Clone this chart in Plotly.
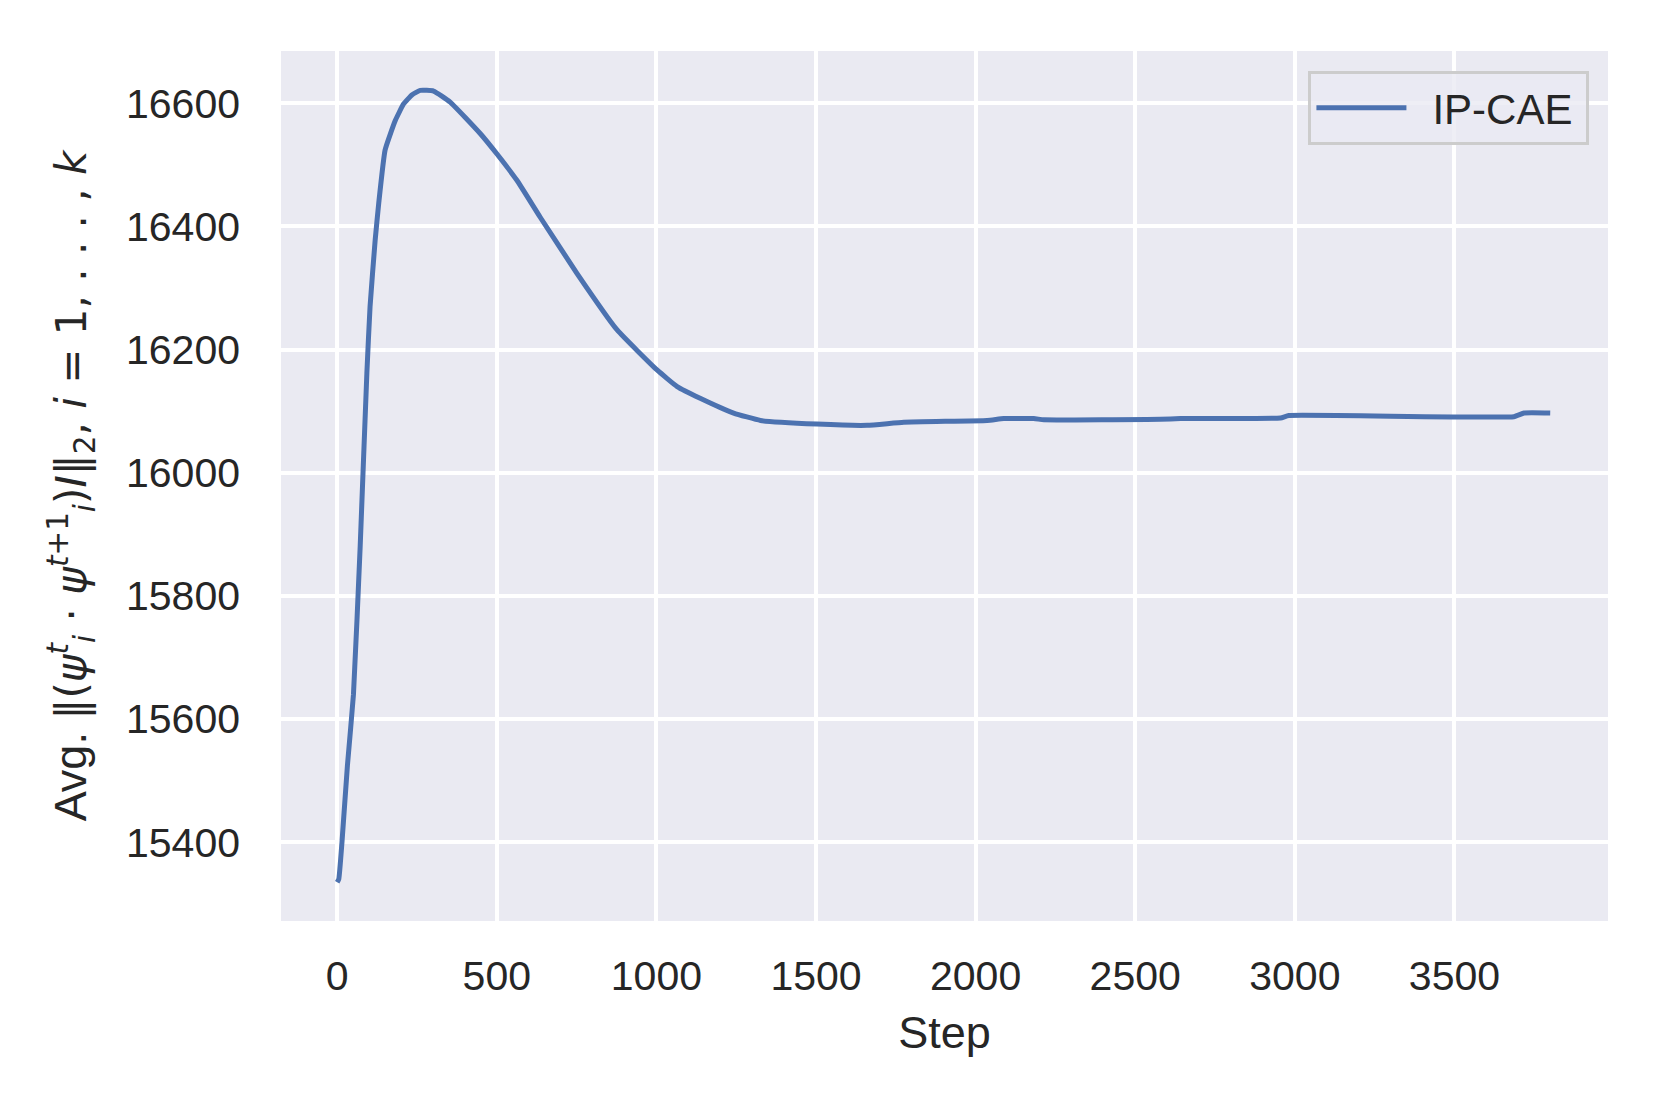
"""Avg. norm of consecutive-step product for IP-CAE, seaborn darkgrid look in Plotly."""

import plotly.graph_objects as go

# values
steps = [0, 5, 15, 32, 51, 72, 93, 103, 119, 130, 150, 182, 208, 235, 260,
         302, 354, 448, 500, 563, 636, 751, 877, 1002, 1065, 1137, 1242,
         1326, 1503, 1660, 1775, 2036, 2088, 2182, 2214, 2579, 2642, 2955,
         2981, 3686, 3718, 3800]
avg_norm = [15335, 15340, 15400, 15524, 15640, 15880, 16162, 16270, 16378,
            16437, 16524, 16572, 16599, 16614, 16621, 16620, 16602, 16551,
            16518, 16475, 16415, 16324, 16232, 16167, 16140, 16121, 16097,
            16085, 16079, 16077, 16082, 16085, 16088, 16088, 16086, 16087,
            16088, 16089, 16093, 16091, 16097, 16097]
series_name = "IP-CAE"
x_ticks = [0, 500, 1000, 1500, 2000, 2500, 3000, 3500]
y_ticks = [15400, 15600, 15800, 16000, 16200, 16400, 16600]

FONT = "Arial, Liberation Sans, sans-serif"
TEXT = "#262626"
BG = "#EAEAF2"

fig = go.Figure()
fig.add_trace(
    go.Scatter(
        x=steps,
        y=avg_norm,
        mode="lines",
        # en space before / thin space after: matplotlib-like legend padding
        name="\u2002" + series_name + "\u2009",
        line=dict(color="#4C72B0", width=5, shape="spline", smoothing=0.4),
    )
)

# mathtext part of the label is set in DejaVu Sans like matplotlib does
math = (
    "‖(<i>ψ</i><sup><i>t</i></sup><sub><i>i</i></sub> · "
    "<i>ψ</i><sup><i>t</i>+1</sup><sub><i>i</i></sub>)<i>I</i>‖<sub>2</sub>, "
    "<i>i</i> = 1, . . . , <i>k</i>"
)
y_title = "Avg. <span style='font-family:DejaVu Sans;font-size:42px'>" + math + "</span>"

# page body has an 8px margin, so the figure is 8px smaller than the window
fig.update_layout(
    width=1653,
    height=1099,
    margin=dict(l=273, r=53, t=43, b=186),
    paper_bgcolor="white",
    plot_bgcolor=BG,
    font=dict(family=FONT, size=41, color=TEXT),
    showlegend=True,
    legend=dict(
        x=0.986,
        y=0.977,
        xanchor="right",
        yanchor="top",
        bgcolor="rgba(234,234,242,0.8)",
        bordercolor="#CCCCCC",
        borderwidth=3,
        font=dict(size=42, color=TEXT),
        itemwidth=90,
    ),
)
fig.update_xaxes(
    range=[-176, 3981],
    tickvals=x_ticks,
    tickformat="d",
    showgrid=True,
    gridcolor="white",
    gridwidth=3.5,
    zeroline=False,
    showline=False,
    ticks="",
    automargin=False,
    ticklabelstandoff=27,
    title=dict(text="Step", font=dict(size=45, color=TEXT), standoff=18),
)
fig.update_yaxes(
    range=[15272, 16685],
    tickvals=y_ticks,
    tickformat="d",
    showgrid=True,
    gridcolor="white",
    gridwidth=3.5,
    zeroline=False,
    showline=False,
    ticks="",
    automargin=False,
    ticklabelstandoff=40,
    title=dict(text=y_title, font=dict(size=45, color=TEXT), standoff=25),
)

fig.write_html("out.html")
